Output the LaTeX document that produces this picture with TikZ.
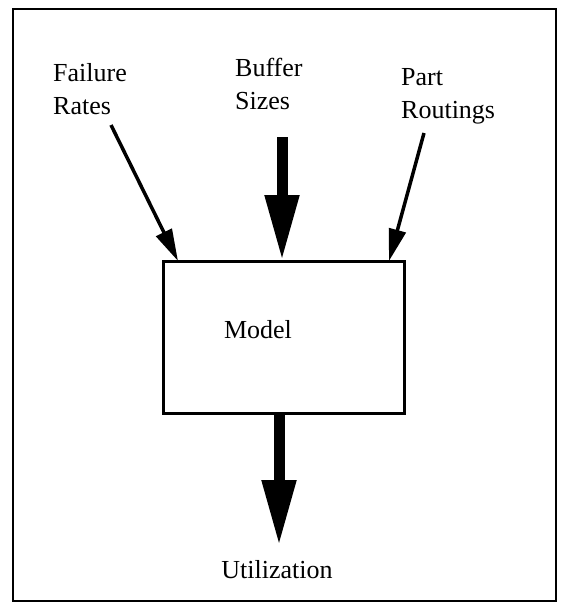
\documentclass[tikz,border=0pt]{standalone}
\usepackage{fontspec}
\setmainfont{Liberation Serif}
\usetikzlibrary{arrows.meta}
\begin{document}
\begin{tikzpicture}[x=1pt,y=-1pt,
  lbl/.style={font=\fontsize{26}{33}\selectfont, inner sep=0pt, align=left},
  modelbox/.style={draw, line width=3pt, minimum width=241pt, minimum height=152pt, inner sep=0pt},
  thinarrow/.style={line width=3.5pt, -{Triangle[length=32pt,width=17pt]}},
  fatarrow/.style={line width=11pt, -{Triangle[length=66pt,width=32pt]}}]
\useasboundingbox (0,0) rectangle (564,606);
\draw[line width=2.5pt] (13,9) rectangle (556,601);
\node[modelbox] (model) at (283.5,337) {};
\node[lbl] (modeltxt) at (258,330) {Model};
\node[lbl, anchor=west] (fail) at (53,89) {Failure\\Rates};
\node[lbl, anchor=west] (buf) at (235,84) {Buffer\\Sizes};
\node[lbl, anchor=west] (part) at (401,96) {Part\\Routings};
\node[lbl] (util) at (277,570) {Utilization};
\coordinate (fs) at (111,125);
\coordinate (ft) at (178,261);
\coordinate (bs) at (282,137);
\coordinate (bt) at (282,261);
\coordinate (ps) at (424,133);
\coordinate (pt) at (389,261);
\coordinate (us) at (279,413);
\coordinate (ut) at (279,546);
\draw[thinarrow] (fs) -- (ft);
\draw[thinarrow] (ps) -- (pt);
\draw[fatarrow] (bs) -- (bt);
\draw[fatarrow] (us) -- (ut);
\end{tikzpicture}
\end{document}
